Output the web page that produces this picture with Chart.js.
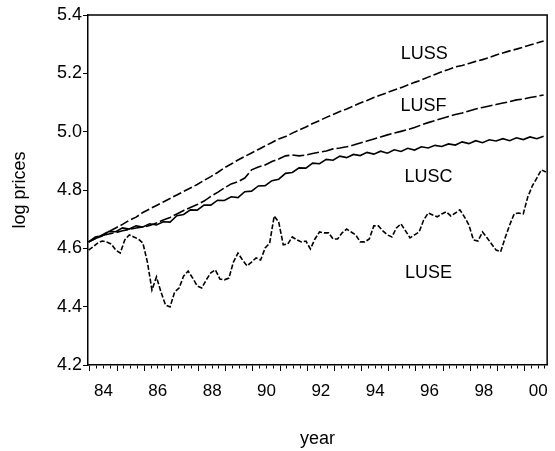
<!DOCTYPE html>
<html>
<head>
<meta charset="utf-8">
<script src="https://cdn.jsdelivr.net/npm/chart.js@4.4.1/dist/chart.umd.min.js"></script>
<style>
  body { margin: 0; background: #fff; }
  canvas { display: block; }
</style>
</head>
<body>
<canvas id="pricesChart" width="555" height="451"></canvas>
<script>
// dates (decimal years)
const quarterYears = [];
for (let k = 0; k < 68; k++) quarterYears.push(1983.95 + k * 0.25);
const bimonthYears = [];
for (let i = 0; i < 102; i++) bimonthYears.push(1983.95 + i / 6);

const yTicks = [4.2, 4.4, 4.6, 4.8, 5.0, 5.2, 5.4];
const xLabelYears = [84, 86, 88, 90, 92, 94, 96, 98, 0];

const luss = [
  4.622, 4.634, 4.646, 4.658, 4.670, 4.682, 4.696, 4.707, 4.723, 4.735,
  4.747, 4.759, 4.771, 4.783, 4.795, 4.807, 4.819, 4.833, 4.846, 4.860,
  4.876, 4.889, 4.903, 4.915, 4.927, 4.939, 4.951, 4.963, 4.975, 4.983,
  4.995, 5.006, 5.016, 5.028, 5.038, 5.049, 5.059, 5.069, 5.078, 5.088,
  5.098, 5.107, 5.117, 5.126, 5.134, 5.143, 5.151, 5.160, 5.169, 5.177,
  5.187, 5.196, 5.205, 5.213, 5.222, 5.227, 5.234, 5.241, 5.247, 5.254,
  5.263, 5.270, 5.277, 5.283, 5.290, 5.297, 5.304, 5.311
];
const lusf = [
  4.622, 4.639, 4.644, 4.649, 4.654, 4.660, 4.665, 4.670, 4.673, 4.678,
  4.687, 4.697, 4.706, 4.718, 4.730, 4.740, 4.750, 4.762, 4.778, 4.792,
  4.807, 4.821, 4.828, 4.841, 4.869, 4.879, 4.886, 4.898, 4.906, 4.917,
  4.920, 4.917, 4.920, 4.925, 4.930, 4.934, 4.941, 4.944, 4.948, 4.954,
  4.961, 4.968, 4.975, 4.982, 4.989, 4.995, 5.001, 5.007, 5.014, 5.023,
  5.031, 5.038, 5.045, 5.052, 5.059, 5.064, 5.071, 5.078, 5.083, 5.088,
  5.093, 5.098, 5.103, 5.109, 5.112, 5.117, 5.121, 5.126
];
const lusc = [
  4.622, 4.634, 4.642, 4.658, 4.657, 4.670, 4.666, 4.677, 4.673, 4.684,
  4.680, 4.691, 4.690, 4.712, 4.716, 4.732, 4.731, 4.748, 4.748, 4.765,
  4.764, 4.777, 4.774, 4.794, 4.796, 4.814, 4.815, 4.832, 4.837, 4.857,
  4.860, 4.876, 4.875, 4.892, 4.890, 4.905, 4.902, 4.916, 4.911, 4.922,
  4.918, 4.929, 4.923, 4.933, 4.926, 4.938, 4.932, 4.943, 4.937, 4.948,
  4.944, 4.953, 4.949, 4.958, 4.954, 4.965, 4.959, 4.969, 4.962, 4.972,
  4.968, 4.976, 4.969, 4.979, 4.973, 4.982, 4.976, 4.984
];
const luse = [
  4.594, 4.605, 4.618, 4.625, 4.622, 4.615, 4.594, 4.584, 4.629, 4.646,
  4.639, 4.632, 4.618, 4.553, 4.457, 4.502, 4.450, 4.406, 4.399, 4.450,
  4.464, 4.505, 4.522, 4.498, 4.471, 4.464, 4.492, 4.516, 4.526, 4.495,
  4.492, 4.498, 4.553, 4.584, 4.560, 4.540, 4.553, 4.567, 4.560, 4.601,
  4.618, 4.711, 4.690, 4.612, 4.615, 4.639, 4.629, 4.622, 4.625, 4.598,
  4.632, 4.656, 4.653, 4.653, 4.632, 4.632, 4.653, 4.666, 4.656, 4.646,
  4.622, 4.622, 4.632, 4.677, 4.677, 4.660, 4.646, 4.639, 4.670, 4.684,
  4.660, 4.636, 4.646, 4.656, 4.697, 4.721, 4.714, 4.708, 4.718, 4.725,
  4.711, 4.721, 4.732, 4.708, 4.680, 4.629, 4.625, 4.656, 4.636, 4.615,
  4.594, 4.588, 4.636, 4.680, 4.718, 4.721, 4.718, 4.776, 4.814, 4.841,
  4.869, 4.862
];

// in-plot series names and where they sit (data units)
const seriesNames = ['LUSS', 'LUSF', 'LUSC', 'LUSE'];
const nameX = [1996.31, 1996.28, 1996.46, 1996.46];
const nameY = [5.266, 5.088, 4.845, 4.516];

const FONT = '"Liberation Sans", Arial, sans-serif';

function toPoints(xs, ys) {
  return ys.map((v, i) => ({ x: xs[i], y: v }));
}

function lineSet(label, xs, ys, dash) {
  return {
    label,
    data: toPoints(xs, ys),
    borderColor: '#000',
    borderWidth: 1.6,
    borderDash: dash,
    pointRadius: 0,
    tension: 0,
    fill: false
  };
}

// top/right frame plus series names
const framePlugin = {
  id: 'framePlugin',
  afterDatasetsDraw(chart) {
    const { ctx, chartArea: a, scales } = chart;
    ctx.save();
    ctx.strokeStyle = '#000';
    ctx.lineWidth = 1.5;
    ctx.beginPath();
    ctx.moveTo(a.left, a.top);
    ctx.lineTo(a.right, a.top);
    ctx.lineTo(a.right, a.bottom);
    ctx.stroke();

    ctx.fillStyle = '#000';
    ctx.font = '18px ' + FONT;
    ctx.textAlign = 'center';
    ctx.textBaseline = 'middle';
    seriesNames.forEach((n, i) => {
      ctx.fillText(n, scales.x.getPixelForValue(nameX[i]), scales.y.getPixelForValue(nameY[i]));
    });
    ctx.restore();
  }
};

new Chart(document.getElementById('pricesChart'), {
  type: 'line',
  data: {
    datasets: [
      lineSet('LUSS', quarterYears, luss, [9, 3]),
      lineSet('LUSF', quarterYears, lusf, [12, 3]),
      lineSet('LUSC', quarterYears, lusc, []),
      lineSet('LUSE', bimonthYears, luse, [5, 2])
    ]
  },
  options: {
    responsive: false,
    animation: false,
    layout: { padding: { left: 0, right: 3, top: 15, bottom: 0 } },
    plugins: { legend: { display: false }, tooltip: { enabled: false } },
    scales: {
      x: {
        type: 'linear',
        min: 1983.93,
        max: 2000.83,
        afterBuildTicks(scale) {
          const t = [];
          for (let q = 0; q <= 67; q++) t.push({ value: 1984 + q * 0.25 });
          scale.ticks = t;
        },
        afterFit(scale) { scale.height = 86; },
        grid: {
          drawOnChartArea: false,
          drawTicks: true,
          tickLength: 6,
          tickColor: '#000',
          tickWidth: 1,
          tickBorderDash: (c) => (c.tick && Number.isInteger(c.tick.value)) ? [] : [3, 30]
        },
        border: { color: '#000', width: 1.5 },
        ticks: {
          autoSkip: false,
          maxRotation: 0,
          padding: 10,
          color: '#000',
          font: { family: FONT, size: 17 },
          callback(value) {
            const yr = value - 0.5;
            if (!Number.isInteger(yr)) return '';
            const yy = yr % 100;
            if (!xLabelYears.includes(yy)) return '';
            return String(yy).padStart(2, '0');
          }
        },
        title: {
          display: true,
          text: 'year',
          color: '#000',
          font: { family: FONT, size: 18 },
          padding: { top: 0, bottom: 1 }
        }
      },
      y: {
        min: 4.2,
        max: 5.4,
        afterBuildTicks(scale) {
          scale.ticks = yTicks.map(v => ({ value: v }));
        },
        afterFit(scale) { scale.width = 88; },
        grid: {
          drawOnChartArea: false,
          tickLength: 5,
          tickColor: '#000',
          tickWidth: 1
        },
        border: { color: '#000', width: 1.5 },
        ticks: {
          padding: 1,
          color: '#000',
          font: { family: FONT, size: 18 },
          callback: (v) => v.toFixed(1)
        },
        title: {
          display: true,
          text: 'log prices',
          color: '#000',
          font: { family: FONT, size: 18 },
          padding: { top: 9, bottom: 0 }
        }
      }
    }
  },
  plugins: [framePlugin]
});
</script>
</body>
</html>
